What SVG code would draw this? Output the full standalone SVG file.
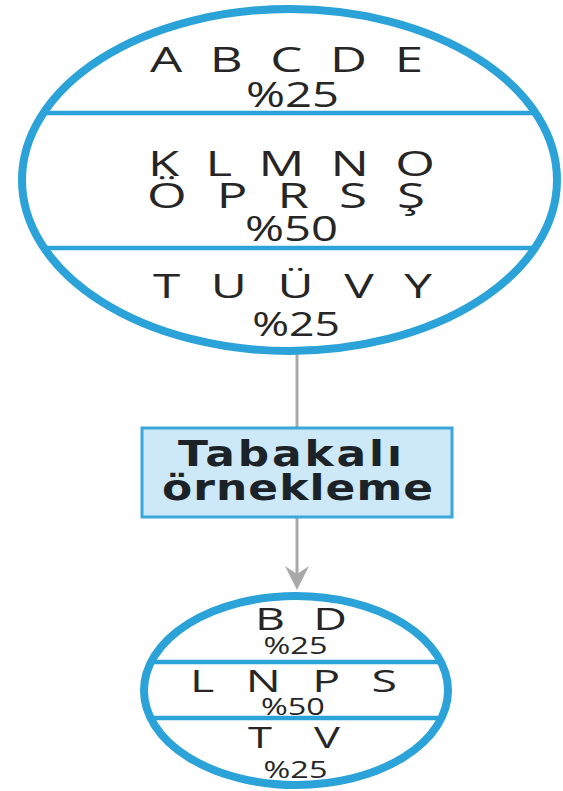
<svg xmlns="http://www.w3.org/2000/svg" width="563" height="791" viewBox="0 0 563 791">
<style>
.ring{fill:#fff;stroke:#2ba3d8}
.sep{stroke:#2ba3d8;stroke-width:4.5}
.t{font-family:"Open Sans","Liberation Sans",sans-serif;fill:#262626;text-anchor:middle}
.b{font-family:"DejaVu Sans","Liberation Sans",sans-serif;font-weight:bold;fill:#1c2328;text-anchor:middle;font-size:36px}
.con{stroke:#a9a9a9;stroke-width:3;fill:none}
</style>
<rect width="563" height="791" fill="#fff"/>
<g id="connectors">
<line class="con" x1="297" y1="354" x2="297" y2="428"/>
<line class="con" x1="297" y1="518" x2="297" y2="584"/>
<polygon points="285,566 297,590 309,566 297,574" fill="#a9a9a9"/>
</g>
<g id="population">
<ellipse class="ring" cx="289.5" cy="180" rx="267.5" ry="171" stroke-width="8"/>
<line class="sep" x1="44" y1="113" x2="535" y2="113"/>
<line class="sep" x1="44" y1="248" x2="535" y2="248"/>
<g transform="scale(1.5,1)">
<text class="t" x="191" y="72" font-size="34" textLength="182" lengthAdjust="spacing">A B C D E</text>
<text class="t" x="194.3" y="176" font-size="34" textLength="191.3" lengthAdjust="spacing">K L M N O</text>
<text class="t" x="190.7" y="208" font-size="34" textLength="185.3" lengthAdjust="spacing">Ö P R S Ş</text>
<text class="t" x="195" y="298" font-size="33" textLength="186" lengthAdjust="spacing">T U Ü V Y</text>
</g>
<g transform="scale(1.35,1)">
<text class="t" x="216.7" y="107" font-size="35">%25</text>
<text class="t" x="215.9" y="241" font-size="35">%50</text>
<text class="t" x="219.3" y="336" font-size="33">%25</text>
</g>
</g>
<g id="method">
<rect x="142" y="428" width="310" height="89" fill="#cde8f6" stroke="#3aa6da" stroke-width="3"/>
<g transform="scale(1.22,1)">
<text class="b" x="237.7" y="466" textLength="183.6" lengthAdjust="spacing">Tabakalı</text>
<text class="b" x="243.9" y="500" textLength="222.1" lengthAdjust="spacing">örnekleme</text>
</g>
</g>
<g id="sample">
<ellipse class="ring" cx="296" cy="690.5" rx="152" ry="94.5" stroke-width="8"/>
<line class="sep" x1="152" y1="662" x2="440" y2="662"/>
<line class="sep" x1="148" y1="718" x2="444" y2="718"/>
<g transform="scale(1.5,1)">
<text class="t" x="200.7" y="630" font-size="31" textLength="61.3" lengthAdjust="spacing">B D</text>
<text class="t" x="195.7" y="692" font-size="31" textLength="138" lengthAdjust="spacing">L N P S</text>
<text class="t" x="196" y="748" font-size="29" textLength="61.3" lengthAdjust="spacing">T V</text>
</g>
<g transform="scale(1.35,1)">
<text class="t" x="218.9" y="654" font-size="24">%25</text>
<text class="t" x="217" y="715" font-size="24">%50</text>
<text class="t" x="218.9" y="778" font-size="24">%25</text>
</g>
</g>
</svg>
